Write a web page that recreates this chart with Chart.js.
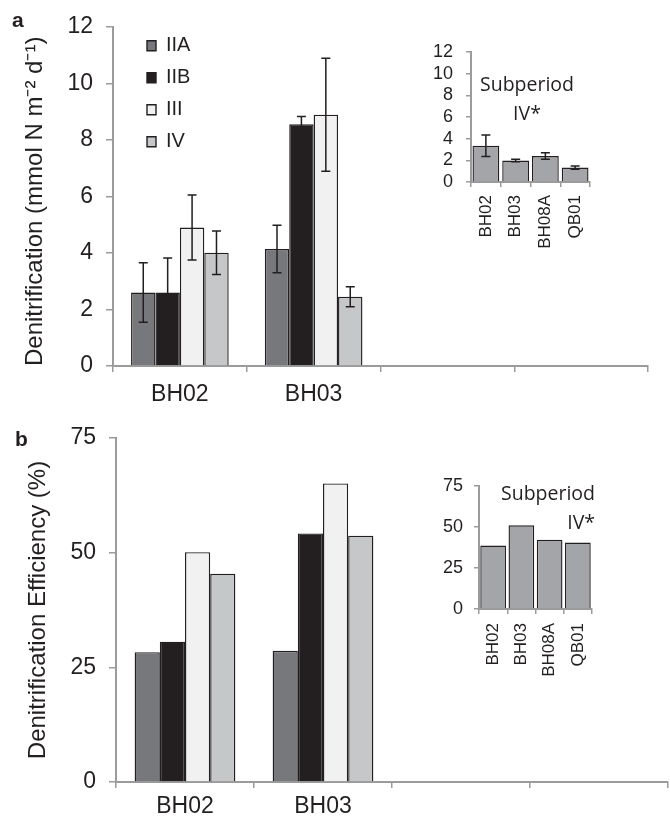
<!DOCTYPE html>
<html>
<head>
<meta charset="utf-8">
<script src="https://cdn.jsdelivr.net/npm/chart.js"></script>
<style>
  body { margin: 0; background: #fff; }
  #wrap { position: relative; width: 670px; height: 821px; }
  canvas { position: absolute; }
</style>
</head>
<body>
<div id="wrap">
  <canvas id="mainA" width="670" height="410" style="left:0;top:0"></canvas>
  <canvas id="mainB" width="670" height="411" style="left:0;top:410px"></canvas>
  <canvas id="insetA" width="230" height="250" style="left:380px;top:20px"></canvas>
  <canvas id="insetB" width="230" height="240" style="left:390px;top:450px"></canvas>
</div>
<script>
// ---- data ----
var sites = ['BH02', 'BH03', '', ''];
var periods = ['IIA', 'IIB', 'III', 'IV'];

// denitrification, mmol N m-2 d-1 (panel a)
var denitIIA = [2.6, 4.14];
var denitIIB = [2.6, 8.55];
var denitIII = [4.9, 8.89];
var denitIV  = [4.01, 2.45];
var denitErrIIA = [1.05, 0.84];
var denitErrIIB = [1.22, 0.28];
var denitErrIII = [1.15, 2.0];
var denitErrIV  = [0.77, 0.35];

// denitrification efficiency, % (panel b)
var effIIA = [28.3, 28.6];
var effIIB = [30.6, 54.2];
var effIII = [50.1, 65.1];
var effIV  = [45.4, 53.7];

// subperiod IV* insets
var insetSites = ['BH02', 'BH03', 'BH08A', 'QB01'];
var insetDenit = [3.35, 1.98, 2.4, 1.33];
var insetDenitErr = [1.0, 0.12, 0.3, 0.15];
var insetEff = [38.7, 51.0, 42.3, 40.5];

var denitMax = 12, denitStep = 2;
var effMax = 75, effStep = 25;

// ---- styling ----
var ink = '#231f20';
var axisGray = '#9b9b9b';
var periodColors = ['#77787b', '#231f20', '#f1f1f2', '#c6c7c9'];
var insetColor = '#a4a5a8';
var arial = "'Liberation Sans', Arial, sans-serif";

Chart.defaults.font.family = arial;
Chart.defaults.color = ink;

// error bars drawn from each dataset's errorBars array
var errorBarPlugin = {
    id: 'errorBars',
    afterDatasetsDraw: function(chart) {
        var ctx = chart.ctx;
        var y = chart.scales.y;
        chart.data.datasets.forEach(function(ds, i) {
            if (!ds.errorBars) return;
            var meta = chart.getDatasetMeta(i);
            meta.data.forEach(function(bar, j) {
                var e = ds.errorBars[j];
                var v = ds.data[j];
                if (e == null || v == null) return;
                var top = y.getPixelForValue(v + e);
                var bot = y.getPixelForValue(v - e);
                ctx.save();
                ctx.strokeStyle = ink;
                ctx.lineWidth = 1.5;
                ctx.beginPath();
                ctx.moveTo(bar.x, top); ctx.lineTo(bar.x, bot);
                ctx.moveTo(bar.x - 4.5, top); ctx.lineTo(bar.x + 4.5, top);
                ctx.moveTo(bar.x - 4.5, bot); ctx.lineTo(bar.x + 4.5, bot);
                ctx.stroke();
                ctx.restore();
            });
        });
    }
};

// free text (panel letters, inset captions)
function textPlugin(items) {
    return {
        id: 'freeText',
        afterDraw: function(chart) {
            var ctx = chart.ctx;
            ctx.save();
            ctx.fillStyle = ink;
            ctx.textBaseline = 'alphabetic';
            items.forEach(function(t) {
                ctx.font = t.font;
                ctx.textAlign = t.align;
                ctx.fillText(t.text, t.x, t.y);
            });
            ctx.restore();
        }
    };
}

// move the in-plot legend to its spot near the top left of the plot
var legendPlacer = {
    id: 'legendPlacer',
    afterLayout: function(chart) {
        var lg = chart.legend;
        var w = lg.width, h = lg.height;
        lg.left = chart.chartArea.left + 22;
        lg.top = chart.chartArea.top - 3;
        lg.right = lg.left + w;
        lg.bottom = lg.top + h;
    }
};

function periodSets(values, errs) {
    return periods.map(function(p, i) {
        var ds = {
            label: p,
            data: values[i],
            backgroundColor: periodColors[i],
            borderColor: ink,
            borderWidth: 1.4,
            categoryPercentage: 0.73,
            barPercentage: 1.0
        };
        if (errs) ds.errorBars = errs[i];
        return ds;
    });
}

function mainScales(max, step, title, yWidth, xHeight, titlePad, titleAlign, xPad) {
    return {
        x: {
            grid: { display: true, drawOnChartArea: false, offset: true, tickLength: 6, color: axisGray, tickColor: axisGray, lineWidth: 1.5 },
            border: { display: true, color: axisGray, width: 2 },
            ticks: { font: { size: 23 }, padding: xPad, color: ink },
            afterFit: function(s) { s.height = xHeight; }
        },
        y: {
            min: 0, max: max,
            grid: { display: true, drawOnChartArea: false, tickLength: 7, color: axisGray, tickColor: axisGray, lineWidth: 1.5 },
            border: { display: true, color: axisGray, width: 2 },
            ticks: { stepSize: step, font: { size: 23 }, padding: 13, color: ink },
            title: { display: true, text: title, font: { size: 24 }, color: ink, padding: { top: titlePad, bottom: 0 }, align: titleAlign },
            afterFit: function(s) { s.width = yWidth; }
        }
    };
}

new Chart(document.getElementById('mainA'), {
    type: 'bar',
    data: {
        labels: sites,
        datasets: periodSets([denitIIA, denitIIB, denitIII, denitIV],
                             [denitErrIIA, denitErrIIB, denitErrIII, denitErrIV])
    },
    options: {
        responsive: false, animation: false, devicePixelRatio: 1,
        layout: { padding: { top: 21, right: 22, left: 0, bottom: 0 } },
        scales: mainScales(denitMax, denitStep, 'Denitrification (mmol N m\u207B\u00B2 d\u207B\u00B9)', 113, 44, 21, 'start', 9),
        plugins: {
            legend: {
                position: 'chartArea', align: 'start',
                labels: { boxWidth: 9, boxHeight: 10, padding: 12, font: { size: 20 }, color: ink }
            },
            tooltip: { enabled: false }
        }
    },
    plugins: [errorBarPlugin, legendPlacer,
        textPlugin([{ text: 'a', x: 12, y: 27, align: 'left', font: 'bold 21px ' + arial }])]
});

new Chart(document.getElementById('mainB'), {
    type: 'bar',
    data: {
        labels: sites,
        datasets: periodSets([effIIA, effIIB, effIII, effIV])
    },
    options: {
        responsive: false, animation: false, devicePixelRatio: 1,
        layout: { padding: { top: 28, right: 2, left: 0, bottom: 0 } },
        scales: mainScales(effMax, effStep, 'Denitrification Efficiency (%)', 116, 39, 24, 'center', 5),
        plugins: { legend: { display: false }, tooltip: { enabled: false } }
    },
    plugins: [textPlugin([{ text: 'b', x: 15, y: 36, align: 'left', font: 'bold 21px ' + arial }])]
});

function insetScales(max, step, yWidth, xHeight, yPad, xPad) {
    return {
        x: {
            grid: { display: true, drawOnChartArea: false, offset: true, tickLength: 5, color: axisGray, tickColor: axisGray, lineWidth: 1.5 },
            border: { display: true, color: axisGray, width: 2 },
            ticks: { font: { size: 17 }, padding: xPad, minRotation: 90, maxRotation: 90, color: ink },
            afterFit: function(s) { s.height = xHeight; }
        },
        y: {
            min: 0, max: max,
            grid: { display: true, drawOnChartArea: false, tickLength: 5, color: axisGray, tickColor: axisGray, lineWidth: 1.5 },
            border: { display: true, color: axisGray, width: 2 },
            ticks: { stepSize: step, font: { size: 18 }, padding: yPad, color: ink, autoSkip: false },
            afterFit: function(s) { s.width = yWidth; }
        }
    };
}

var calibriLike = "19.5px 'Open Sans', sans-serif";

new Chart(document.getElementById('insetA'), {
    type: 'bar',
    data: {
        labels: insetSites,
        datasets: [{
            label: 'IV*', data: insetDenit, errorBars: insetDenitErr,
            backgroundColor: insetColor, borderColor: ink, borderWidth: 1.4,
            categoryPercentage: 0.9, barPercentage: 1.0
        }]
    },
    options: {
        responsive: false, animation: false, devicePixelRatio: 1,
        layout: { padding: { top: 32, right: 20, left: 0, bottom: 0 } },
        scales: insetScales(denitMax, denitStep, 91, 88, 13, 8),
        plugins: { legend: { display: false }, tooltip: { enabled: false } }
    },
    plugins: [errorBarPlugin, textPlugin([
        { text: 'Subperiod', x: 147, y: 70.5, align: 'center', font: calibriLike },
        { text: 'IV*', x: 147, y: 100, align: 'center', font: calibriLike }
    ])]
});

new Chart(document.getElementById('insetB'), {
    type: 'bar',
    data: {
        labels: insetSites,
        datasets: [{
            label: 'IV*', data: insetEff,
            backgroundColor: insetColor, borderColor: ink, borderWidth: 1.4,
            categoryPercentage: 0.91, barPercentage: 1.0
        }]
    },
    options: {
        responsive: false, animation: false, devicePixelRatio: 1,
        layout: { padding: { top: 36, right: 28, left: 0, bottom: 0 } },
        scales: insetScales(effMax, effStep, 89, 81, 11, 9),
        plugins: { legend: { display: false }, tooltip: { enabled: false } }
    },
    plugins: [textPlugin([
        { text: 'Subperiod', x: 205, y: 49.5, align: 'right', font: calibriLike },
        { text: 'IV*', x: 205, y: 78.5, align: 'right', font: calibriLike }
    ])]
});
</script>
</body>
</html>
